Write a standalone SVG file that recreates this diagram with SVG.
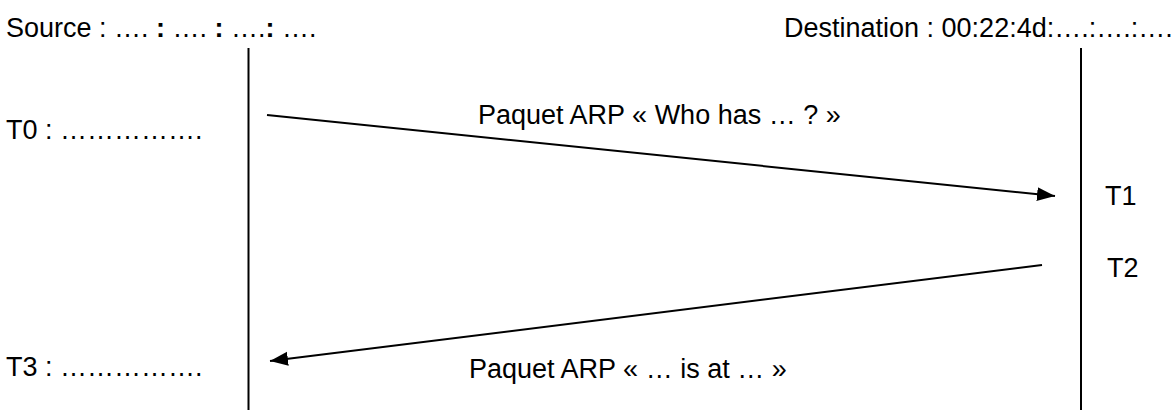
<svg xmlns="http://www.w3.org/2000/svg" width="1174" height="410" viewBox="0 0 1174 410">
  <style>
    text { font-family: "Liberation Sans", Arial, sans-serif; font-size: 27px; fill: #000; }
    .b { font-weight: bold; }
    .life { stroke: #000; stroke-width: 2; fill: none; }
    .msg { stroke: #000; stroke-width: 2; fill: none; marker-end: url(#head); }
  </style>
  <defs>
    <marker id="head" markerUnits="userSpaceOnUse" markerWidth="20" markerHeight="16" refX="18" refY="7" orient="auto">
      <path d="M0,0 L18,7 L0,14 z" fill="#000"/>
    </marker>
  </defs>

  <!-- header labels -->
  <g id="source">
    <text x="6" y="37">Source : …. <tspan class="b">:</tspan> …. <tspan class="b">:</tspan> ….<tspan class="b">:</tspan> ….</text>
    <line class="life" x1="248.5" y1="48" x2="248.5" y2="410"/>
  </g>
  <g id="destination">
    <text x="784" y="37">Destination : 00:22:4d:….:….:….</text>
    <line class="life" x1="1081" y1="48" x2="1081" y2="410"/>
  </g>

  <!-- time marks -->
  <g id="t0"><text x="6" y="139">T0 : …………….</text></g>
  <g id="t1"><text x="1105" y="205">T1</text></g>
  <g id="t2"><text x="1107" y="277">T2</text></g>
  <g id="t3"><text x="6" y="376">T3 : …………….</text></g>

  <!-- messages -->
  <g id="connectors">
    <line class="msg" x1="267" y1="115" x2="1055" y2="196"/>
    <line class="msg" x1="1042" y1="265" x2="270" y2="361"/>
  </g>
  <g id="label-request"><text x="478" y="124">Paquet ARP « Who has … ? »</text></g>
  <g id="label-reply"><text x="469" y="378">Paquet ARP « … is at … »</text></g>
</svg>
